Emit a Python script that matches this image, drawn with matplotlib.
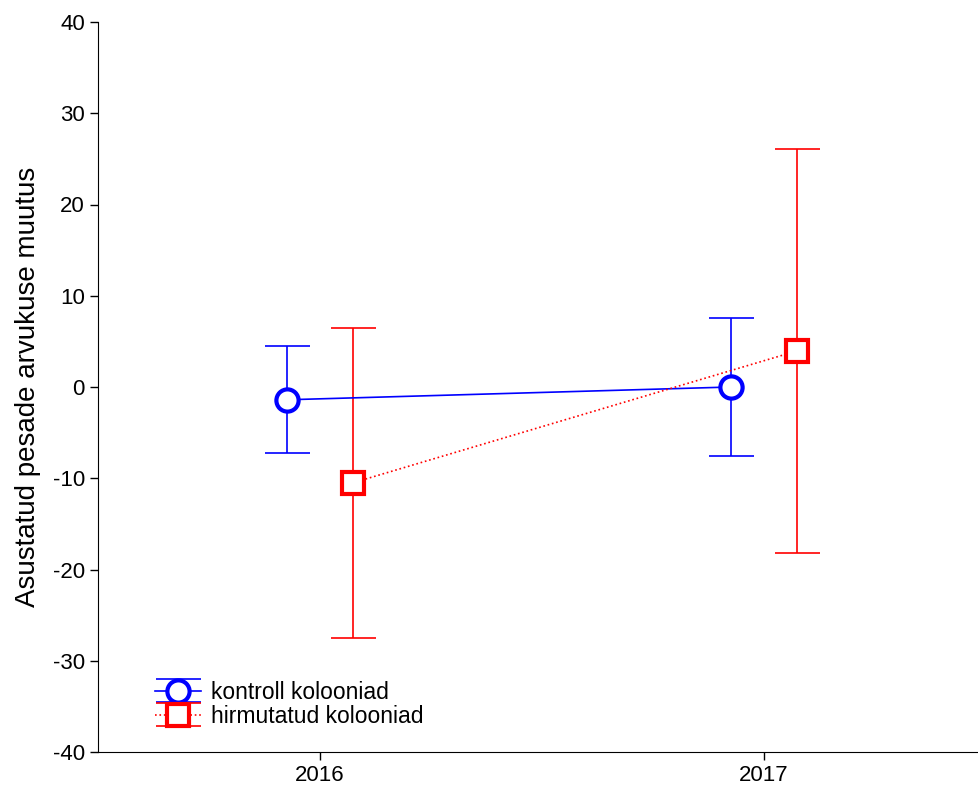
import matplotlib
matplotlib.use("Agg")
import matplotlib.pyplot as plt
import numpy as np

plt.rcParams['font.family'] = ['Liberation Sans', 'DejaVu Sans']
plt.rcParams['axes.unicode_minus'] = False

years = ["2016", "2017"]
kontroll_mean = [-1.4, 0.0]
kontroll_err = [5.85, 7.6]
hirm_mean = [-10.5, 3.95]
hirm_err = [17.0, 22.1]

fig = plt.figure(figsize=(9.79, 7.89), dpi=100)
ax = fig.add_axes([98/979, 37/789, 888/979, 730/789])

x = np.arange(len(years))
off = 0.074
c1 = ax.errorbar(x - off, kontroll_mean, yerr=kontroll_err, color='#0000ff', lw=1.2,
                 elinewidth=1.2, capsize=16.2, capthick=1.2, marker='o', ms=16,
                 mfc='white', mec='#0000ff', mew=3, ls='-', label='kontroll kolooniad')
c2 = ax.errorbar(x + off, hirm_mean, yerr=hirm_err, color='#ff0000', lw=1.2,
                 elinewidth=1.2, capsize=16.2, capthick=1.2, marker='s', ms=16,
                 mfc='white', mec='#ff0000', mew=3, ls=':', label='hirmutatud kolooniad')
for c in (c1, c2):
    for cap in c[1]:
        cap.set_markeredgewidth(1.2)

ax.set_xlim(-0.5, 1.5)
ax.set_ylim(-40, 40)
ax.set_yticks(np.arange(-40, 41, 10))
ax.set_xticks(x)
ax.set_xticklabels(years)
ax.tick_params(labelsize=16, length=6, width=1, direction='out')
ax.spines['top'].set_visible(False)
ax.spines['right'].set_visible(False)
ax.set_ylabel('Asustatud pesade arvukuse muutus', fontsize=20, labelpad=8)

leg = ax.legend(loc='lower left', bbox_to_anchor=(0.064, 0.033), frameon=False,
                fontsize=16.5, handlelength=2.0, handletextpad=0.45, labelspacing=0.05,
                borderaxespad=0, borderpad=0)

fig.savefig('out.png', dpi=100)
